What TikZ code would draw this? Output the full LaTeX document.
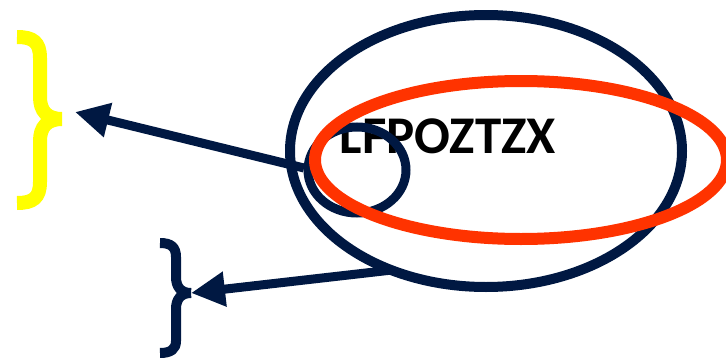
\documentclass[tikz,border=0pt]{standalone}
\usepackage{fontspec}
\setmainfont{Carlito}
\usetikzlibrary{arrows.meta}
\definecolor{navy}{HTML}{001842}
\definecolor{flame}{HTML}{FF3300}
\definecolor{brightyellow}{HTML}{FFFF00}
\tikzset{
  ring/.style={draw=navy, line width=10pt},
  redring/.style={draw=flame, line width=12pt},
  pointer/.style={draw=navy, line width=9pt, -{Triangle[length=34pt,width=33pt]}},
  bracestroke/.style={line cap=butt, line join=miter},
  label/.style={font=\bfseries\fontsize{53}{53}\selectfont, text=black, anchor=base, inner sep=0pt}
}
\begin{document}
\begin{tikzpicture}[x=1pt, y=-1pt]
  \useasboundingbox (0,0) rectangle (726,359);
  \clip (0,0) rectangle (726,359);

  % label sits underneath the rings
  \node[label] (word) at (448,153) {LFPOZTZX};

  % rings
  \draw[ring] (486,151) ellipse [x radius=196pt, y radius=136pt];
  \draw[ring, line width=9pt] (357,170) ellipse [x radius=49pt, y radius=43pt];
  \draw[redring] (521,160) ellipse [x radius=206pt, y radius=79pt];

  % brace tips and arrow starts
  \coordinate (ytip) at (62,119);
  \coordinate (ntip) at (191,293);
  \coordinate (s1) at (304,168);
  \coordinate (s2) at (392,270);

  % yellow brace
  \draw[brightyellow, line width=14pt, bracestroke]
    (17,37) .. controls (33,37) and (40,42) .. (40,58) -- (40,97)
            .. controls (40,111) and (47,119) .. (ytip)
    (ytip) .. controls (47,119) and (40,127) .. (40,141) -- (40,182)
            .. controls (40,198) and (33,203) .. (17,203);

  % navy brace
  \draw[navy, line width=10pt, bracestroke]
    (160,243) .. controls (171,243) and (176,247) .. (176,257) -- (176,277)
              .. controls (176,287) and (181,293) .. (ntip)
    (ntip) .. controls (181,293) and (176,299) .. (176,309) -- (176,341)
              .. controls (176,349) and (171,353) .. (160,353);

  % arrows
  \draw[pointer] (s1) -- (75,112);
  \draw[pointer] (s2) -- (ntip);
\end{tikzpicture}
\end{document}
